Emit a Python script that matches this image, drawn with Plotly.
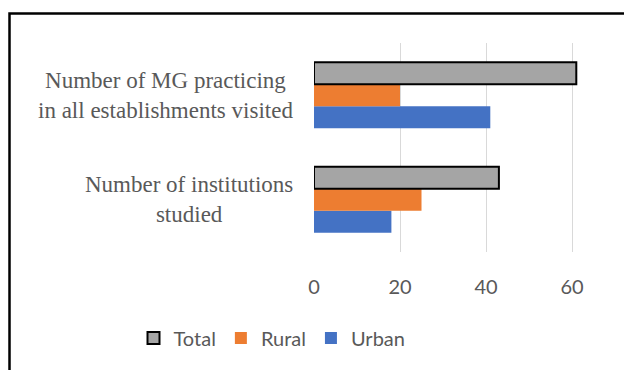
import plotly.graph_objects as go

# Categories (bottom to top on the horizontal bar axis)
categories = ["Number of institutions studied",
              "Number of MG practicing in all establishments visited"]
category_labels = ["Number of institutions<br>studied",
                   "Number of MG practicing<br>in all establishments visited"]

total_values = [43, 61]
rural_values = [25, 20]
urban_values = [18, 41]

x_tick_values = [0, 20, 40, 60]

W, H = 624, 370
L, R, T, B = 314, 0, 43, 118
plot_w = W - L - R
plot_h = H - T - B

label_color = "#595959"
sans = "Lato"
serif = "Times New Roman, Liberation Serif, DejaVu Serif, serif"

fig = go.Figure()
# Trace order bottom->top inside each group: Urban, Rural, Total
fig.add_trace(go.Bar(y=categories, x=urban_values, name="Urban", orientation="h",
                     marker=dict(color="#4472C4", line=dict(width=0))))
fig.add_trace(go.Bar(y=categories, x=rural_values, name="Rural", orientation="h",
                     marker=dict(color="#ED7D31", line=dict(width=0))))
fig.add_trace(go.Bar(y=categories, x=total_values, name="Total", orientation="h",
                     marker=dict(color="#A5A5A5", line=dict(color="#000000", width=2))))

# Serif category labels, centred line by line, to the left of the plot
annotations = []
for cat, lab in zip(categories, category_labels):
    annotations.append(dict(
        x=0, xref="paper", y=cat, yref="y", text=lab, showarrow=False,
        xanchor="right", yanchor="middle", align="center", xshift=-19,
        font=dict(family=serif, size=23, color=label_color)))

# x-range chosen so the plot area runs off the right edge of the chart
x_max = 60 * plot_w / (572 - L)

fig.update_layout(
    width=W, height=H,
    margin=dict(l=L, r=R, t=T, b=B, pad=0),
    paper_bgcolor="white", plot_bgcolor="white",
    barmode="group", bargap=0.368, bargroupgap=0,
    showlegend=True,
    legend=dict(orientation="h", traceorder="reversed",
                x=(272 - L) / plot_w, xanchor="center",
                y=(T + plot_h - 338) / plot_h, yanchor="middle",
                font=dict(family=sans, size=20, color=label_color),
                itemwidth=30, bgcolor="rgba(0,0,0,0)"),
    xaxis=dict(range=[0, x_max], tickvals=x_tick_values, showgrid=True,
               gridcolor="#D9D9D9", gridwidth=1, zeroline=False, showline=False,
               ticks="", ticklabelstandoff=21,
               tickfont=dict(family=sans, size=20, color=label_color)),
    yaxis=dict(categoryorder="array", categoryarray=categories,
               showticklabels=False, showgrid=False, zeroline=False,
               showline=False, ticks=""),
    annotations=annotations,
    shapes=[dict(type="rect", xref="paper", yref="paper",
                 x0=(9.5 - L) / plot_w, x1=1.2,
                 y0=-1.0, y1=(T + plot_h - 13.5) / plot_h,
                 line=dict(color="#000000", width=2.5),
                 fillcolor="rgba(0,0,0,0)", layer="below")],
)

fig.write_html("out.html")
